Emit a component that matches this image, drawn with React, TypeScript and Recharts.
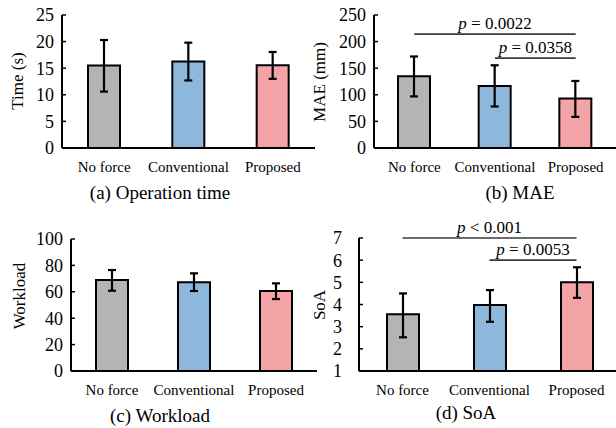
import React from 'react'
import { BarChart, Bar, XAxis, YAxis, ErrorBar, Cell, ReferenceLine } from 'recharts'

const FONT = 'Liberation Serif, Times New Roman, Times, serif'

const categories = ['No force', 'Conventional', 'Proposed']
const barColors = ['#b4b4b4', '#8db8dc', '#f4a3a6']

// (a) operation time
const timeMean = [15.5, 16.25, 15.55]
const timeLow = [10.6, 12.7, 13.0]
const timeHigh = [20.3, 19.8, 18.05]
const timeTicks = [0, 5, 10, 15, 20, 25]

// (b) MAE
const maeMean = [135, 116.5, 93]
const maeLow = [97, 78, 58.5]
const maeHigh = [172, 155.5, 126]
const maeTicks = [0, 50, 100, 150, 200, 250]
const maeBrackets = [
  { from: 'No force', to: 'Proposed', y: 214, rel: '= 0.0022' },
  { from: 'Conventional', to: 'Proposed', y: 169, rel: '= 0.0358' },
]

// (c) workload
const workloadMean = [68.9, 67.2, 60.6]
const workloadLow = [60.8, 60.6, 54.5]
const workloadHigh = [76.5, 74, 66.4]
const workloadTicks = [0, 20, 40, 60, 80, 100]

// (d) SoA
const soaMean = [3.56, 3.98, 5.0]
const soaLow = [2.52, 3.22, 4.3]
const soaHigh = [4.5, 4.65, 5.68]
const soaTicks = [1, 2, 3, 4, 5, 6, 7]
const soaBrackets = [
  { from: 'No force', to: 'Proposed', y: 7, rel: '< 0.001' },
  { from: 'Conventional', to: 'Proposed', y: 6, rel: '= 0.0053' },
]

type Bracket = { from: string; to: string; y: number; rel: string }

interface PanelProps {
  left: number
  top: number
  width: number
  height: number
  marginTop: number
  axisWidth: number
  labelGap: number
  ticks: number[]
  mean: number[]
  low: number[]
  high: number[]
  brackets?: Bracket[]
}

// recharts puts the tick text 8px left of the axis (tickSize 6 + tickMargin 2)
const YTick = (props: any) => {
  const { x, y, payload, gap } = props
  const axisX = x + 8
  return (
    <g>
      <text x={axisX - gap} y={y} dy="0.355em" textAnchor="end" fontSize={18} fill="#000" style={{ fontFamily: FONT }}>
        {payload.value}
      </text>
      <line x1={axisX} x2={axisX + 4} y1={y} y2={y} stroke="#000" strokeWidth={1.5} />
    </g>
  )
}

function Panel({ left, top, width, height, marginTop, axisWidth, labelGap, ticks, mean, low, high, brackets = [] }: PanelProps) {
  const data = categories.map((name, i) => ({
    name,
    value: mean[i],
    err: [mean[i] - low[i], high[i] - mean[i]],
  }))
  const lo = ticks[0]
  const hi = ticks[ticks.length - 1]

  return (
    <div style={{ position: 'absolute', left, top, fontFamily: FONT }}>
      <BarChart
        width={width}
        height={height}
        data={data}
        margin={{ top: marginTop, right: 0, bottom: 0, left: 0 }}
        style={{ overflow: 'visible', fontFamily: FONT }}
      >
        <XAxis
          dataKey="name"
          axisLine={{ stroke: '#000', strokeWidth: 2 }}
          tickLine={false}
          tickMargin={7}
          tick={{ fontSize: 15, fill: '#000', style: { fontFamily: FONT } }}
          height={30}
          interval={0}
        />
        <YAxis
          type="number"
          domain={[lo, hi]}
          ticks={ticks}
          interval={0}
          width={axisWidth}
          axisLine={{ stroke: '#000', strokeWidth: 2 }}
          tickLine={false}
          tick={<YTick gap={labelGap} />}
        />
        <Bar dataKey="value" barSize={32} stroke="#000" strokeWidth={2} isAnimationActive={false}>
          {data.map((d, i) => (
            <Cell key={d.name} fill={barColors[i]} />
          ))}
          <ErrorBar dataKey="err" width={4} strokeWidth={2.2} stroke="#000" direction="y" />
        </Bar>
        {brackets.map((b) => (
          <ReferenceLine
            key={b.rel}
            segment={[
              { x: b.from, y: b.y },
              { x: b.to, y: b.y },
            ]}
            stroke="#3a3a3a"
            strokeWidth={1.6}
            ifOverflow="visible"
            label={{
              content: (p: any) => {
                const vb = p.viewBox || {}
                const cx = vb.x + (vb.width || 0) / 2
                return (
                  <text x={cx} y={vb.y - 5} textAnchor="middle" fontSize={17} fill="#000" style={{ fontFamily: FONT }}>
                    <tspan fontStyle="italic">p</tspan> {b.rel}
                  </text>
                )
              },
            }}
          />
        ))}
      </BarChart>
    </div>
  )
}

const YTitle = ({ x, y, text }: { x: number; y: number; text: string }) => (
  <div
    style={{
      position: 'absolute',
      left: x,
      top: y,
      transform: 'translate(-50%, -50%) rotate(-90deg)',
      whiteSpace: 'nowrap',
      fontSize: 17,
      fontFamily: FONT,
      lineHeight: 1,
    }}
  >
    {text}
  </div>
)

const Caption = ({ x, y, text }: { x: number; y: number; text: string }) => (
  <div
    style={{
      position: 'absolute',
      left: x,
      top: y,
      transform: 'translate(-50%, -50%)',
      whiteSpace: 'nowrap',
      fontSize: 19,
      fontFamily: FONT,
      lineHeight: 1,
    }}
  >
    {text}
  </div>
)

export default function App() {
  return (
    <div style={{ position: 'absolute', left: 0, top: 0, width: 616, height: 428, background: '#fff', overflow: 'hidden' }}>
      <Panel left={0} top={0} width={315} height={178} marginTop={15} axisWidth={62} labelGap={8}
        ticks={timeTicks} mean={timeMean} low={timeLow} high={timeHigh} />
      <Panel left={305} top={0} width={311} height={178} marginTop={15} axisWidth={69} labelGap={8}
        ticks={maeTicks} mean={maeMean} low={maeLow} high={maeHigh} brackets={maeBrackets} />
      <Panel left={0} top={215} width={317} height={186} marginTop={24} axisWidth={71} labelGap={8}
        ticks={workloadTicks} mean={workloadMean} low={workloadLow} high={workloadHigh} />
      <Panel left={305} top={215} width={315} height={186} marginTop={23} axisWidth={54} labelGap={17}
        ticks={soaTicks} mean={soaMean} low={soaLow} high={soaHigh} brackets={soaBrackets} />

      <YTitle x={17} y={81} text="Time (s)" />
      <YTitle x={319} y={82} text="MAE (mm)" />
      <YTitle x={19} y={296} text="Workload" />
      <YTitle x={319} y={305} text="SoA" />

      <Caption x={160} y={192} text="(a) Operation time" />
      <Caption x={520} y={192} text="(b) MAE" />
      <Caption x={160} y={415} text="(c) Workload" />
      <Caption x={466} y={412} text="(d) SoA" />
    </div>
  )
}
